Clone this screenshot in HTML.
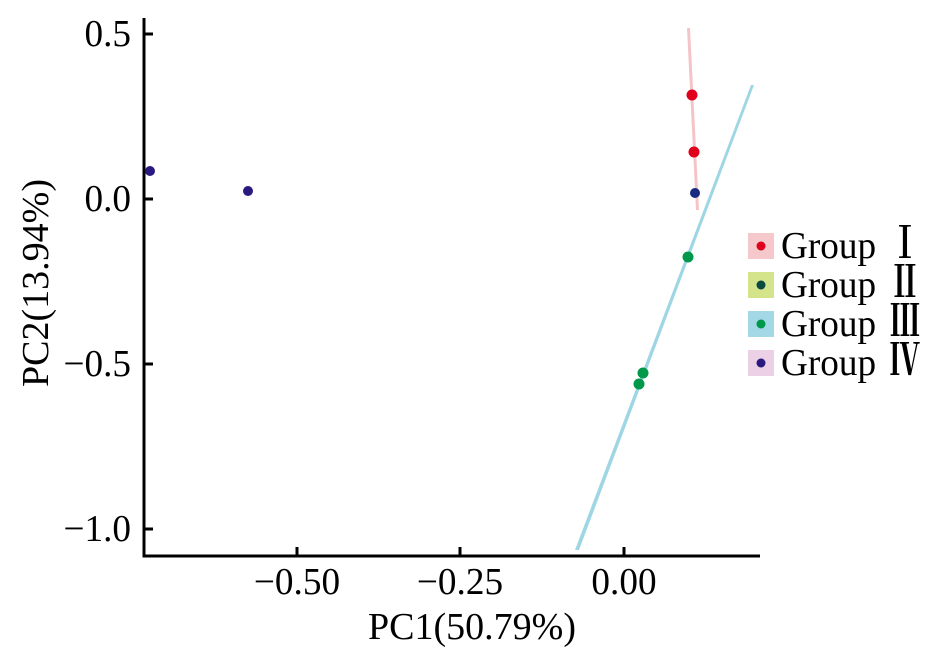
<!DOCTYPE html>
<html><head><style>body{margin:0;background:#fff}</style></head><body>
<svg width="933" height="657" xmlns="http://www.w3.org/2000/svg" font-family="Liberation Serif, 'Noto Serif CJK SC', serif">
<rect width="933" height="657" fill="#fff"/>
<polygon points="687,28 690,28 699,210 696,210" fill="#f5c4c8"/>
<polygon points="575,550 579,550 754,85 751,85" fill="#9fd6e4"/>
<g fill="none" stroke="#000" stroke-width="3">
<path d="M144,18 V556 H760"/>
<path d="M144,34 h9 M144,199 h9 M144,364 h9 M144,529 h9"/>
<path d="M297,556 v-9 M460,556 v-9 M624,556 v-9"/>
</g>
<g font-size="38" text-anchor="end">
<text transform="translate(131,46) scale(0.98,1)">0.5</text>
<text transform="translate(131,211) scale(0.98,1)">0.0</text>
<text transform="translate(131,376) scale(0.98,1)">−0.5</text>
<text transform="translate(131,541) scale(0.98,1)">−1.0</text>
</g>
<g font-size="38" text-anchor="middle">
<text transform="translate(297,594) scale(0.98,1)">−0.50</text>
<text transform="translate(460,594) scale(0.98,1)">−0.25</text>
<text transform="translate(624,594) scale(0.98,1)">0.00</text>
<text transform="translate(472,639) scale(1.0,1)">PC1(50.79%)</text>
<text transform="translate(48,283) rotate(-90) scale(1.0,1)">PC2(13.94%)</text>
</g>
<g>
<circle cx="692" cy="95" r="5.5" fill="#e0001b"/>
<circle cx="694" cy="152" r="5.5" fill="#e0001b"/>
<circle cx="695" cy="193" r="5" fill="#1a2a80"/>
<circle cx="688" cy="257" r="5.5" fill="#00984a"/>
<circle cx="643" cy="373" r="5.5" fill="#00984a"/>
<circle cx="639" cy="384" r="5.5" fill="#00984a"/>
<circle cx="150" cy="171" r="5" fill="#2a1a80"/>
<circle cx="248" cy="191" r="5" fill="#2a1a80"/>
</g>
<rect x="748" y="233" width="26" height="26" fill="#f5c8cc"/><circle cx="761" cy="246" r="4.5" fill="#e0001b"/>
<rect x="748" y="272" width="26" height="26" fill="#d4e48a"/><circle cx="761" cy="285" r="4.5" fill="#0a4a40"/>
<rect x="748" y="311" width="26" height="26" fill="#a4d8e6"/><circle cx="761" cy="324" r="4.5" fill="#00984a"/>
<rect x="748" y="350" width="26" height="26" fill="#ecd0e6"/><circle cx="761" cy="363" r="4.5" fill="#2a1a80"/>
<g font-size="38">
<text transform="translate(781,258) scale(0.98,1)">Group</text>
<text transform="translate(781,297) scale(0.98,1)">Group</text>
<text transform="translate(781,336) scale(0.98,1)">Group</text>
<text transform="translate(781,375) scale(0.98,1)">Group</text>
<g font-family="'Noto Serif CJK SC', serif" font-weight="bold" text-anchor="middle">
<text transform="translate(905,258) scale(0.8,1.15)">Ⅰ</text>
<text transform="translate(905,297) scale(0.8,1.15)">Ⅱ</text>
<text transform="translate(905,336) scale(0.8,1.15)">Ⅲ</text>
<text transform="translate(905,375) scale(0.8,1.15)">Ⅳ</text>
</g>
</g>
</svg>
</body></html>
